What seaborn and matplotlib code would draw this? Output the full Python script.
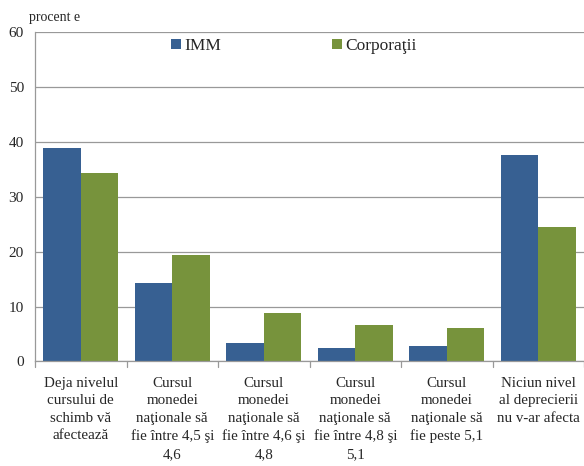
import matplotlib
matplotlib.use("Agg")
import matplotlib.pyplot as plt
import seaborn as sns
import pandas as pd
from matplotlib.patches import Patch

categories = [
    "Deja nivelul\ncursului de\nschimb vă\nafectează",
    "Cursul\nmonedei\nnaţionale să\nfie între 4,5 şi\n4,6",
    "Cursul\nmonedei\nnaţionale să\nfie între 4,6 şi\n4,8",
    "Cursul\nmonedei\nnaţionale să\nfie între 4,8 şi\n5,1",
    "Cursul\nmonedei\nnaţionale să\nfie peste 5,1",
    "Niciun nivel\nal deprecierii\nnu v-ar afecta",
]
imm = [39.0, 14.3, 3.4, 2.4, 2.9, 37.7]
corporatii = [34.4, 19.4, 8.8, 6.6, 6.1, 24.6]
series_names = ["IMM", "Corporaţii"]
colors = ["#376092", "#77933C"]
yticks = [0, 10, 20, 30, 40, 50, 60]

df = pd.DataFrame({
    "cat": categories * 2,
    "val": imm + corporatii,
    "serie": [series_names[0]] * len(categories) + [series_names[1]] * len(categories),
})

sns.set_style("white")
plt.rcParams["font.family"] = ["Liberation Serif", "DejaVu Serif"]

fig = plt.figure(figsize=(5.84, 4.66), dpi=100)
ax = fig.add_axes([0.06, 0.2243, 0.94, 0.7064])

sns.barplot(data=df, x="cat", y="val", hue="serie", hue_order=series_names,
            palette=colors, width=0.82, gap=0, ax=ax, legend=False,
            saturation=1, edgecolor="none")

ax.set_xlim(-0.5, len(categories) - 0.5)
ax.set_ylim(0, 60)
ax.set_yticks(yticks)
ax.set_yticklabels([str(t) for t in yticks], fontsize=11)
ax.yaxis.grid(True, color="#999999", linewidth=0.9)
ax.set_axisbelow(True)
ax.set_xlabel("")
ax.set_ylabel("")

ax.set_xticks(range(len(categories)))
ax.set_xticklabels(categories, fontsize=10.8, linespacing=1.45)
ax.tick_params(axis="x", length=0, pad=11)
# boundary ticks between categories
for b in [i + 0.5 for i in range(-1, len(categories))]:
    ax.plot([b, b], [0, -1.0], color="#999999", lw=0.9, clip_on=False)
ax.tick_params(axis="y", length=4, color="#999999", pad=4)

for s in ["top", "right"]:
    ax.spines[s].set_visible(False)
for s in ["left", "bottom"]:
    ax.spines[s].set_color("#999999")
    ax.spines[s].set_linewidth(0.9)

handles = [Patch(facecolor=c, edgecolor="none") for c in colors]
ax.legend(handles, series_names, loc="upper center", bbox_to_anchor=(0.472, 1.03),
          ncol=2, frameon=False, fontsize=12.5, handlelength=0.55, handleheight=0.55,
          handletextpad=0.2, columnspacing=6.4)

fig.text(0.05, 0.955, "procent e", fontsize=10)

fig.savefig("out.png", dpi=100)
